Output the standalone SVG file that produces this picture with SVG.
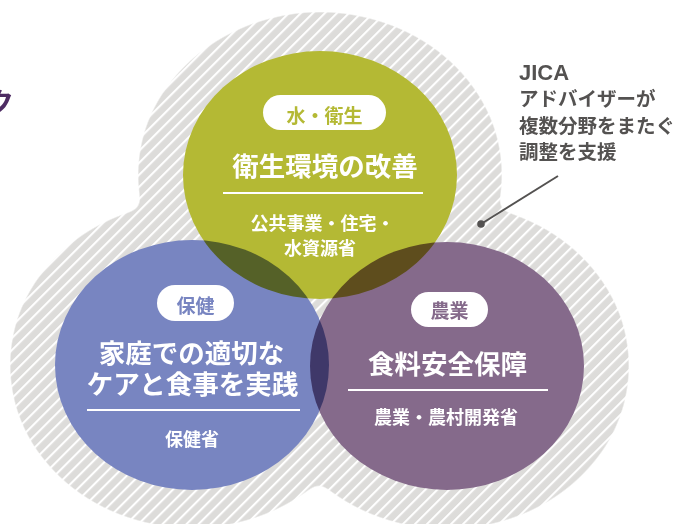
<svg xmlns="http://www.w3.org/2000/svg" width="676" height="524" viewBox="0 0 676 524">
<style>
  text { font-family: "Noto Sans CJK JP", "Noto Sans", sans-serif; font-weight: 700; }
  .w { fill: #ffffff; }
  .big { font-size: 26.5px; text-anchor: middle; }
  .mid { font-size: 18px; text-anchor: middle; }
  .tag { font-size: 19px; text-anchor: middle; }
  .pill { fill: #ffffff; }
  .rule { stroke: #ffffff; stroke-width: 2; }
  .c { mix-blend-mode: multiply; }
  .note { fill: #545251; font-size: 19.5px; }
</style>
<defs>
  <pattern id="hatch" patternUnits="userSpaceOnUse" width="8.5" height="8.5" patternTransform="rotate(45)">
    <rect width="8.5" height="8.5" fill="#dddcda"/>
    <rect x="0" y="0" width="2.1" height="8.5" fill="#ffffff"/>
  </pattern>
  <filter id="smooth" x="-10%" y="-10%" width="120%" height="120%">
    <feGaussianBlur stdDeviation="7"/>
    <feComponentTransfer><feFuncA type="linear" slope="12" intercept="-5.5"/></feComponentTransfer>
  </filter>
  <mask id="trefoil" maskUnits="userSpaceOnUse" x="0" y="0" width="676" height="524">
    <g filter="url(#smooth)" fill="#ffffff">
      <ellipse cx="320" cy="175" rx="182" ry="163"/>
      <ellipse cx="192" cy="365" rx="182" ry="163"/>
      <ellipse cx="447" cy="366" rx="182" ry="163"/>
    </g>
  </mask>
</defs>

<g id="background">
  <rect x="0" y="0" width="676" height="524" fill="url(#hatch)" mask="url(#trefoil)"/>
  <text x="-14" y="113" style="font-size:28px; fill:#4e2c63;">ク</text>
</g>

<g id="nodes" style="isolation:isolate">
  <g id="node-water">
    <ellipse class="c" cx="320" cy="175" rx="137" ry="124" fill="#b4b934"/>
    <rect class="pill" x="263" y="95" width="123" height="35" rx="17.5"/>
    <text class="tag" x="324.5" y="122.5" fill="#b4b934">水・衛生</text>
    <text class="big w" x="325" y="176">衛生環境の改善</text>
    <line class="rule" x1="223" y1="193" x2="423" y2="193"/>
    <text class="mid w" x="322.5" y="230">公共事業・住宅・</text>
    <text class="mid w" x="320" y="255">水資源省</text>
  </g>
  <g id="node-health">
    <ellipse class="c" cx="192" cy="365" rx="137" ry="125" fill="#7885c1"/>
    <rect class="pill" x="157" y="285" width="77" height="36" rx="18"/>
    <text class="tag" x="195.5" y="312.5" fill="#7885c1">保健</text>
    <text class="big w" x="191.5" y="363">家庭での適切な</text>
    <text class="big w" x="192.5" y="394">ケアと食事を実践</text>
    <line class="rule" x1="87" y1="410" x2="300" y2="410"/>
    <text class="mid w" x="192" y="446">保健省</text>
  </g>
  <g id="node-agri">
    <ellipse class="c" cx="447" cy="366" rx="137" ry="124" fill="#856a8b"/>
    <rect class="pill" x="411" y="292" width="77" height="35" rx="17.5"/>
    <text class="tag" x="449.5" y="318" fill="#856a8b">農業</text>
    <text class="big w" x="447.5" y="374">食料安全保障</text>
    <line class="rule" x1="348" y1="390" x2="548" y2="390"/>
    <text class="mid w" x="446" y="424">農業・農村開発省</text>
  </g>
</g>

<g id="jica-note">
  <text x="519" y="80" style="font-family:'Liberation Sans', Arial, sans-serif; font-size:22px; fill:#545251;">JICA</text>
  <text class="note" x="519" y="106">アドバイザーが</text>
  <text class="note" x="519" y="132.5">複数分野をまたぐ</text>
  <text class="note" x="519" y="159">調整を支援</text>
</g>

<g id="connectors">
  <line x1="558" y1="176" x2="481" y2="224" stroke="#545251" stroke-width="2"/>
  <circle cx="481" cy="224" r="3.8" fill="#545251"/>
</g>
</svg>
